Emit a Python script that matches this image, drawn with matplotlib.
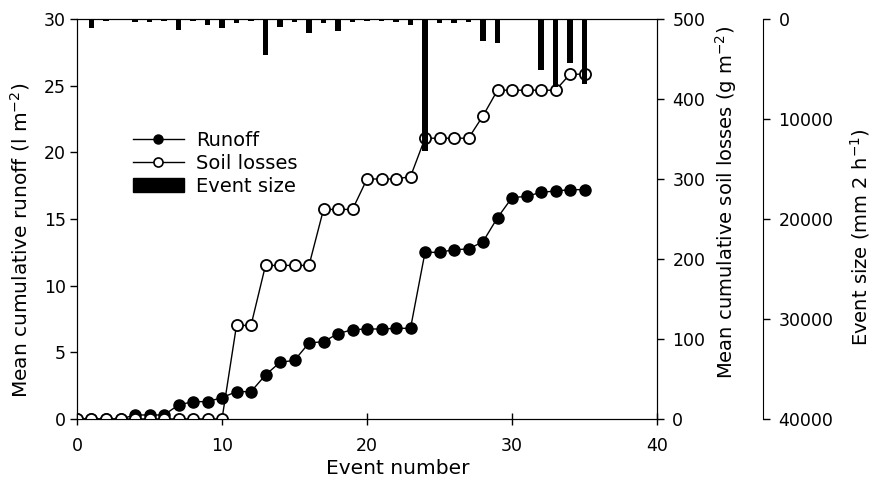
import numpy as np
import matplotlib
matplotlib.use("Agg")
import matplotlib.pyplot as plt
from matplotlib.lines import Line2D
from matplotlib.patches import Patch

plt.rcParams['font.family'] = ['DejaVu Sans']
plt.rcParams['font.size'] = 12.5

events = np.arange(0, 36)

runoff = [0, 0, 0, 0, 0.3, 0.3, 0.3, 1.05, 1.3, 1.3,
          1.6, 2.05, 2.05, 3.3, 4.25, 4.4, 5.7, 5.8, 6.4, 6.7,
          6.75, 6.75, 6.8, 6.8, 12.5, 12.5, 12.7, 12.75, 13.3, 15.1,
          16.6, 16.7, 17.0, 17.1, 17.2, 17.2]

soil = [0, 0, 0, 0, 0, 0, 0, 0, 0, 0,
        0, 117, 117, 192, 192, 192, 192, 262, 262, 262,
        300, 300, 300, 303, 351, 351, 351, 351, 379, 411,
        411, 411, 411, 411, 431, 431]

event_size = [0, 930, 150, 0, 330, 330, 170, 1100, 230, 600,
              870, 370, 170, 3600, 770, 270, 1400, 370, 1200, 330,
              170, 170, 270, 600, 13200, 370, 430, 330, 2200, 2370,
              0, 0, 5100, 6770, 4430, 6500]

fig = plt.figure(figsize=(8.73, 4.79), dpi=100)
ax = fig.add_axes([0.0882, 0.1253, 0.6644, 0.835])

ax.plot(events, runoff, '-o', color='black', lw=1, ms=8, mfc='black', mec='black')
ax.set_xlim(0, 40)
ax.set_ylim(0, 30)
ax.set_xticks([0, 10, 20, 30, 40])
ax.set_yticks([0, 5, 10, 15, 20, 25, 30])
ax.tick_params(axis='x', direction='inout', length=8, width=1, pad=9)
ax.tick_params(axis='y', direction='out', length=5, width=1, pad=3)
ax.set_xlabel("Event number", fontsize=14.5)
ax.xaxis.set_label_coords(0.553, -0.1)
ax.set_ylabel("Mean cumulative runoff (l m$^{-2}$)", fontsize=14.5)
ax.yaxis.set_label_coords(-0.078, 0.4475)

ax2 = ax.twinx()
ax2.plot(events, soil, '-o', color='black', lw=1, ms=8, mfc='white', mec='black', mew=1.3)
ax2.set_ylim(0, 500)
ax2.set_yticks([0, 100, 200, 300, 400, 500])
ax2.tick_params(axis='y', direction='out', length=5, width=1, pad=6)
ax2.set_ylabel("Mean cumulative soil losses (g m$^{-2}$)", fontsize=14)
ax2.yaxis.set_label_coords(1.097, 0.5425)

ax3 = ax.twinx()
ax3.bar(events, event_size, width=0.35, color='black')
ax3.set_ylim(40000, 0)
ax3.set_yticks([0, 10000, 20000, 30000, 40000])
ax3.spines['right'].set_position(('axes', 1.183))
for s in ['top', 'left', 'bottom']:
    ax3.spines[s].set_visible(False)
ax3.tick_params(axis='y', direction='out', length=5, width=1, pad=6)
ax3.set_ylabel("Event size (mm 2 h$^{-1}$)", fontsize=14)
ax3.yaxis.set_label_coords(1.33, 0.455)

handles = [Line2D([], [], color='black', lw=1, marker='o', ms=6.5, mfc='black'),
           Line2D([], [], color='black', lw=1, marker='o', ms=6.5, mfc='white', mew=1.2),
           Patch(facecolor='black', edgecolor='black')]
ax3.legend(handles, ["Runoff", "Soil losses", "Event size"], loc='upper left',
           bbox_to_anchor=(0.0966, 0.72), frameon=False, fontsize=14,
           handlelength=2.6, handletextpad=0.65, labelspacing=0.2, borderpad=0,
           borderaxespad=0)

fig.savefig("out.png", dpi=100)
